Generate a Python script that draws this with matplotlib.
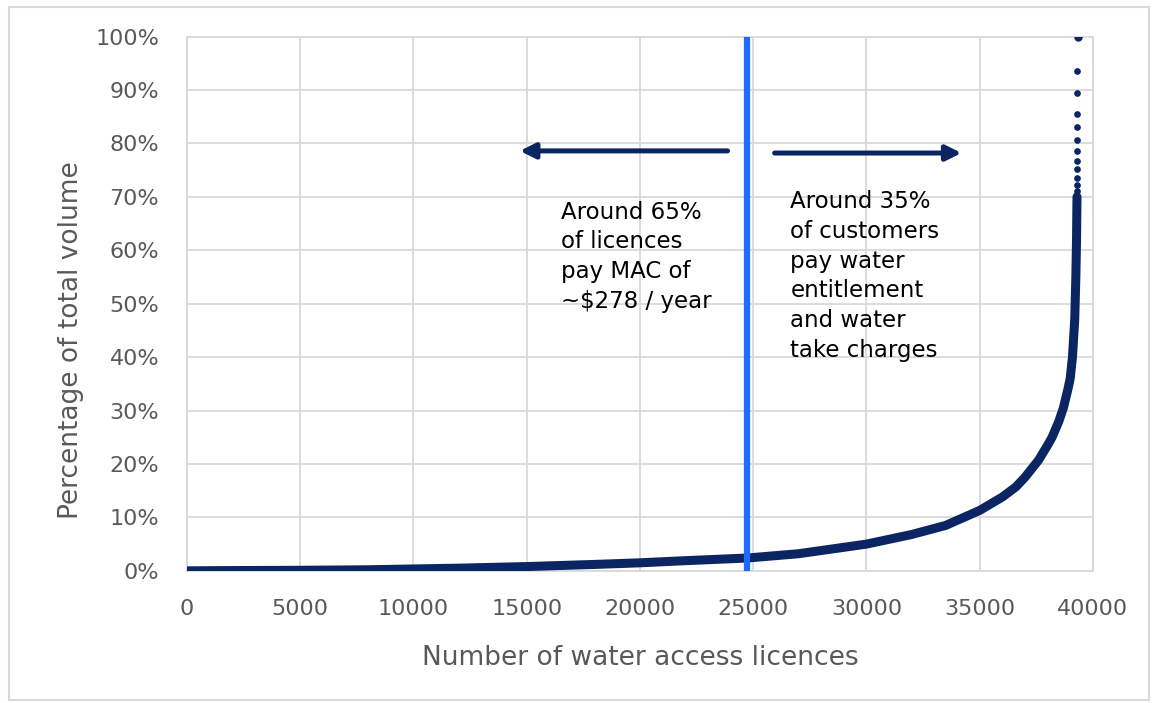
import matplotlib.pyplot as plt
from matplotlib.patches import Rectangle
from matplotlib.ticker import PercentFormatter

# licences ranked by volume, percentage of total volume
licences = [0, 2000, 5000, 8000, 10000, 12000, 15000, 18000, 20000, 22000,
            24750, 27000, 30000, 32000, 33500, 35000, 36000, 36600, 37000,
            37600, 38000, 38200, 38500, 38700, 38900, 39000, 39100, 39200,
            39250, 39280, 39300]
pct_volume = [0, 0.05, 0.1, 0.2, 0.35, 0.5, 0.8, 1.2, 1.5, 1.9,
              2.4, 3.2, 5.0, 6.8, 8.5, 11.3, 13.8, 15.7, 17.5,
              20.7, 23.5, 25.0, 28.0, 30.5, 34.0, 36.0, 40.0, 47.0,
              55.0, 62.0, 70.0]

# the largest licences show up as separate dots
top_licences = [39302, 39304, 39306, 39308, 39310, 39312, 39314, 39316,
                39318, 39320, 39322, 39324]
top_pct = [71.1, 72.2, 73.6, 75.2, 76.7, 78.6, 80.7, 83.0, 85.5, 89.4, 93.5, 100.0]

split_at = 24750
xticks = [0, 5000, 10000, 15000, 20000, 25000, 30000, 35000, 40000]
yticks = [0, 10, 20, 30, 40, 50, 60, 70, 80, 90, 100]

navy = '#0b2462'
grey = '#595959'
grid = '#d9d9d9'

fig = plt.figure(figsize=(11.54, 7.03), dpi=100)
ax = fig.add_axes([0.162, 0.188, 0.785, 0.760])

ax.plot(licences, pct_volume, color=navy, lw=6.5, solid_capstyle='round',
        solid_joinstyle='round', zorder=3)
ax.plot(top_licences, top_pct, 'o', color=navy, ms=3.8, zorder=3)
ax.plot(top_licences[-1:], top_pct[-1:], 'o', color=navy, ms=5, zorder=3)

ax.axvline(split_at, color='#1f6bff', lw=4.5, zorder=4)

# arrows either side of the split
ax.annotate('', xy=(14700, 78.6), xytext=(23870, 78.6),
            arrowprops=dict(arrowstyle='-|>,head_length=0.9,head_width=0.45',
                            color=navy, lw=3.6, shrinkA=0, shrinkB=0))
ax.annotate('', xy=(34200, 78.2), xytext=(25950, 78.2),
            arrowprops=dict(arrowstyle='-|>,head_length=0.9,head_width=0.45',
                            color=navy, lw=3.6, shrinkA=0, shrinkB=0))

ax.text(16500, 69.3, 'Around 65%\nof licences\npay MAC of\n~$278 / year',
        fontsize=16.5, color='black', va='top', ha='left', linespacing=1.38,
        zorder=5)
ax.text(26650, 71.3, 'Around 35%\nof customers\npay water\nentitlement\nand water\ntake charges',
        fontsize=16.5, color='black', va='top', ha='left', linespacing=1.38,
        zorder=5)

ax.set_xlim(0, 40000)
ax.set_ylim(0, 100)
ax.set_xticks(xticks)
ax.set_yticks(yticks)
ax.yaxis.set_major_formatter(PercentFormatter(decimals=0))
ax.tick_params(length=0, labelsize=16, labelcolor=grey)
ax.tick_params(axis='x', pad=20)
ax.tick_params(axis='y', pad=20)
ax.grid(True, color=grid, lw=1.3)
ax.set_axisbelow(True)
for s in ax.spines.values():
    s.set_color(grid)
    s.set_linewidth(1.3)

ax.set_xlabel('Number of water access licences', fontsize=19, color=grey, labelpad=19)
ax.set_ylabel('Percentage of total volume', fontsize=19, color=grey)
ax.yaxis.set_label_coords(-0.114, 0.432)

fig.patches.append(Rectangle((0.008, 0.004), 0.988, 0.986, transform=fig.transFigure,
                             fill=False, edgecolor=grid, lw=1.5))

fig.savefig('out.png', dpi=100)
